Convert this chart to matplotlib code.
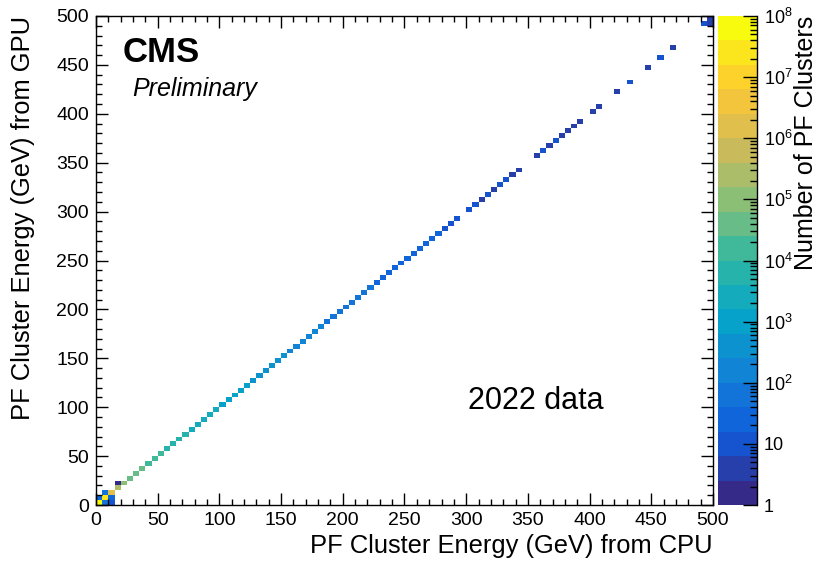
import numpy as np
import matplotlib
matplotlib.use('Agg')
import matplotlib.pyplot as plt
from matplotlib.colors import LinearSegmentedColormap, ListedColormap, BoundaryNorm
from matplotlib.ticker import FixedLocator, FixedFormatter, LogLocator, NullFormatter, MultipleLocator

plt.rcParams['font.family'] = ['Liberation Sans', 'DejaVu Sans']
plt.rcParams['mathtext.fontset'] = 'custom'
plt.rcParams['mathtext.rm'] = 'Liberation Sans'
plt.rcParams['mathtext.it'] = 'Liberation Sans:italic'
plt.rcParams['mathtext.bf'] = 'Liberation Sans:bold'

# 5 GeV bins, 0-500 GeV on both axes
bin_edges = list(range(0, 505, 5))

# entries on the diagonal (CPU bin == GPU bin), one per bin
diag_counts = [
    40000000, 20000000, 2000000, 250000, 100000, 63000, 40000, 32000, 20000, 16000,
    11000, 9000, 7000, 5600, 4500, 3500, 2800, 2500, 2000, 1600,
    1400, 1200, 1000, 850, 700, 600, 500, 420, 360, 300,
    260, 220, 190, 160, 140, 120, 105, 95, 85, 75,
    65, 58, 52, 47, 42, 38, 35, 32, 30, 27,
    25, 23, 21, 19, 18, 16, 15, 14, 13, 0,
    12, 10, 4, 9, 4, 8, 7, 6, 5, 0,
    0, 4, 8, 4, 7, 4, 4, 5, 4, 0,
    4, 5, 0, 0, 4, 0, 8, 0, 0, 4,
    0, 7, 0, 4, 0, 0, 0, 0, 7, 3,
]

# off-diagonal entries: (CPU bin, GPU bin, count)
off_cpu = [1, 2, 0, 2, 1, 3, 99]
off_gpu = [0, 0, 1, 1, 2, 4, 98]
off_cnt = [40, 15, 30, 25, 80, 2, 4]

H = np.zeros((100, 100))
for i, c in enumerate(diag_counts):
    H[i, i] = c
for i, j, c in zip(off_cpu, off_gpu, off_cnt):
    H[j, i] = c
Hm = np.ma.masked_equal(H, 0)

# ROOT kBird palette, 20 log contours from 1 to 1e8
stops = [0.0, 0.125, 0.25, 0.375, 0.5, 0.625, 0.75, 0.875, 1.0]
red = [0.2082, 0.0592, 0.0780, 0.0232, 0.1802, 0.5301, 0.8186, 0.9956, 0.9764]
green = [0.1664, 0.3599, 0.5041, 0.6419, 0.7178, 0.7492, 0.7328, 0.7862, 0.9832]
blue = [0.5293, 0.8684, 0.8385, 0.7914, 0.6425, 0.4662, 0.3499, 0.1968, 0.0539]
bird = LinearSegmentedColormap.from_list(
    'bird', list(zip(stops, zip(red, green, blue))))
ncont = 20
levels = np.logspace(0, 8, ncont + 1)
cmap = ListedColormap(bird(np.linspace(0, 1, ncont)))
norm = BoundaryNorm(levels, ncont)

fig = plt.figure(figsize=(8.29, 5.61), dpi=100)
ax = fig.add_axes([96 / 829, 1 - 505 / 561, 617 / 829, 489 / 561])
ax.pcolormesh(bin_edges, bin_edges, Hm, cmap=cmap, norm=norm)
ax.set_xlim(0, 500)
ax.set_ylim(0, 500)
ax.xaxis.set_major_locator(MultipleLocator(50))
ax.yaxis.set_major_locator(MultipleLocator(50))
ax.xaxis.set_minor_locator(MultipleLocator(10))
ax.yaxis.set_minor_locator(MultipleLocator(10))
ax.tick_params(which='both', direction='in', top=True, right=True,
               labelsize=14, width=1.0, pad=5)
ax.tick_params(which='major', length=8.5)
ax.tick_params(which='minor', length=4.3)
for s in ax.spines.values():
    s.set_linewidth(1.0)
ax.set_xlabel('PF Cluster Energy (GeV) from CPU', fontsize=18.4, loc='right', labelpad=4)
ax.set_ylabel('PF Cluster Energy (GeV) from GPU', fontsize=18.4, loc='top', labelpad=15)

ax.text(123 / 829, 1 - 62 / 561, 'CMS', transform=fig.transFigure,
        fontsize=25, fontweight='bold', ha='left', va='baseline')
ax.text(132 / 829, 1 - 96 / 561, 'Preliminary', transform=fig.transFigure,
        fontsize=18, fontstyle='italic', ha='left', va='baseline')
ax.text(468 / 829, 1 - 409 / 561, '2022 data', transform=fig.transFigure,
        fontsize=22, ha='left', va='baseline')

# palette axis
cax = fig.add_axes([718 / 829, 1 - 505 / 561, 39 / 829, 489 / 561])
mids = np.sqrt(levels[:-1] * levels[1:])
cax.pcolormesh([0, 1], levels, mids.reshape(-1, 1), cmap=cmap, norm=norm)
cax.set_yscale('log')
cax.set_ylim(1, 1e8)
cax.set_xlim(0, 1)
cax.set_xticks([])
cax.yaxis.tick_right()
cax.yaxis.set_label_position('right')
dec = [10.0 ** k for k in range(9)]
dec_labels = ['1', '10'] + ['$10^{%d}$' % k for k in range(2, 9)]
cax.yaxis.set_major_locator(FixedLocator(dec))
cax.yaxis.set_major_formatter(FixedFormatter(dec_labels))
cax.yaxis.set_minor_locator(LogLocator(base=10, subs=np.arange(2, 10), numticks=20))
cax.yaxis.set_minor_formatter(NullFormatter())
cax.tick_params(which='both', direction='in', left=False, right=True,
                labelsize=13, width=1.0, pad=5)
cax.tick_params(which='major', length=10)
cax.tick_params(which='minor', length=5)
for k in ['left', 'top', 'bottom']:
    cax.spines[k].set_visible(False)
cax.spines['right'].set_linewidth(1.0)
cax.set_ylabel('Number of PF Clusters', fontsize=18, loc='top', labelpad=1)

fig.savefig('out.png', dpi=100)
